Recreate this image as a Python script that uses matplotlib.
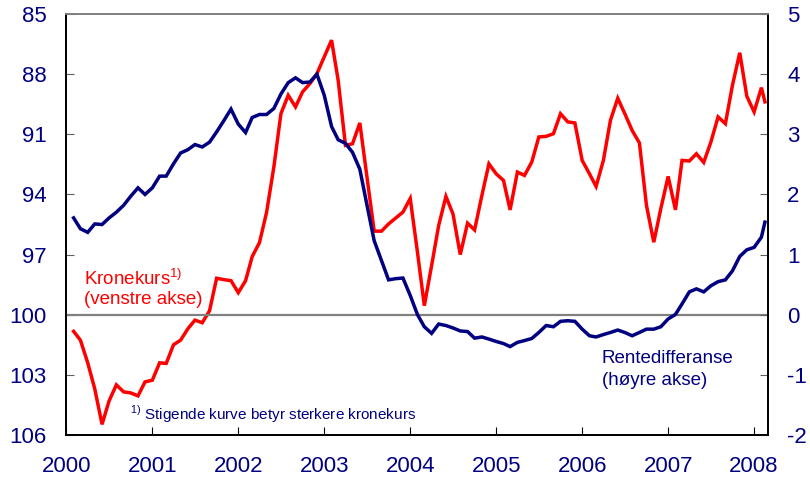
import numpy as np
import pandas as pd
import matplotlib
matplotlib.use("Agg")
import matplotlib.pyplot as plt

plt.rcParams['font.family'] = ['Liberation Sans', 'DejaVu Sans']
plt.rcParams['mathtext.fontset'] = 'custom'
plt.rcParams['mathtext.rm'] = 'Liberation Sans'
plt.rcParams['axes.unicode_minus'] = False

# Månedsdata jan 2000 - jan 2008, pluss siste observasjon midt i feb 2008
datoer = list(pd.date_range('2000-01-31', periods=97, freq='ME')) + [pd.Timestamp('2008-02-15')]

# Kronekurs (venstre akse, invertert)
kronekurs = [
    100.83, 101.27, 102.4, 103.7, 105.47, 104.3, 103.5, 103.85, 103.9, 104.05,
    103.35, 103.27, 102.4, 102.43, 101.5, 101.27, 100.7, 100.27, 100.4, 99.8,
    98.18, 98.25, 98.3, 98.9, 98.3, 97.1, 96.4, 94.9, 92.63, 89.97,
    89.05, 89.63, 88.88, 88.47, 87.97, 87.13, 86.3, 88.3, 91.55, 91.47,
    90.43, 93.1, 95.83, 95.83, 95.47, 95.17, 94.88, 94.2, 96.9, 99.55,
    97.55, 95.55, 94.1, 94.97, 97.0, 95.43, 95.77, 94.05, 92.47, 92.97,
    93.3, 94.77, 92.88, 93.05, 92.38, 91.13, 91.1, 90.97, 89.97, 90.38,
    90.43, 92.3, 92.97, 93.6, 92.3, 90.3, 89.2, 89.97, 90.8, 91.43,
    94.55, 96.38, 94.7, 93.1, 94.77, 92.3, 92.33, 91.97, 92.4, 91.4,
    90.13, 90.47, 88.55, 86.93, 89.1, 89.88, 88.67, 89.38,
]

# Rentedifferanse (høyre akse)
rentediff = [
    1.61, 1.43, 1.37, 1.51, 1.50, 1.61, 1.705, 1.82, 1.97, 2.11,
    2.0, 2.11, 2.305, 2.305, 2.51, 2.69, 2.745, 2.83, 2.79, 2.87,
    3.04, 3.23, 3.42, 3.17, 3.03, 3.28, 3.33, 3.33, 3.43, 3.67,
    3.86, 3.94, 3.86, 3.87, 4.0, 3.65, 3.13, 2.91, 2.85, 2.70,
    2.42, 1.83, 1.23, 0.9, 0.58, 0.60, 0.61, 0.32, 0.0, -0.2,
    -0.31, -0.155, -0.18, -0.22, -0.27, -0.28, -0.39, -0.37, -0.405, -0.445,
    -0.48, -0.53, -0.46, -0.43, -0.395, -0.295, -0.18, -0.2, -0.11, -0.10,
    -0.11, -0.24, -0.35, -0.37, -0.33, -0.295, -0.255, -0.295, -0.35, -0.295,
    -0.24, -0.24, -0.2, -0.07, 0.005, 0.18, 0.38, 0.43, 0.38, 0.48,
    0.55, 0.58, 0.73, 0.97, 1.08, 1.12, 1.29, 1.54,
]

aar = list(range(2000, 2009))
venstre_ticks = [85, 88, 91, 94, 97, 100, 103, 106]
hoyre_ticks = [5, 4, 3, 2, 1, 0, -1, -2]

navy = '#000080'
rod = '#FF0000'

# desimalår fra datoene
d = pd.DatetimeIndex(datoer)
x = d.year + d.dayofyear / np.where(d.is_leap_year, 366.0, 365.0)

fig = plt.figure(figsize=(8.1, 4.86), dpi=100)
ax = fig.add_axes([0.0819, 0.105, 0.8661, 0.866])
ax2 = ax.twinx()

ax.set_xlim(2000, 2008.16)
ax.set_ylim(106, 85)
ax2.set_ylim(-2, 5)

# nullinje
ax2.axhline(0, color='#808080', lw=1.6, zorder=1)

ax.plot(x, kronekurs, color=rod, lw=2.5, solid_joinstyle='miter', zorder=3)
ax2.plot(x, rentediff, color=navy, lw=2.5, solid_joinstyle='miter', zorder=3)

ax.set_xticks(aar)
ax.set_xticklabels([str(a) for a in aar])
ax.set_yticks(venstre_ticks)
ax2.set_yticks(hoyre_ticks)

fs = 16
ax.tick_params(axis='x', direction='in', length=6, color='black', labelcolor=navy,
               labelsize=fs, pad=15)
ax.tick_params(axis='y', direction='in', length=6, color='#606060', labelcolor=navy,
               labelsize=fs, pad=14)
ax2.tick_params(axis='y', direction='in', length=6, color='#606060', labelcolor=navy,
                labelsize=fs, pad=14)

for a in (ax, ax2):
    a.spines['top'].set_color('#808080')
    a.spines['top'].set_linewidth(1.3)
    for s in ('left', 'right', 'bottom'):
        a.spines[s].set_color('black')
        a.spines[s].set_linewidth(1.3)

ax2.set_zorder(ax.get_zorder() + 1)
ax2.patch.set_visible(False)

# tekster
ax.text(2000.21, 98.2, 'Kronekurs$^{\\mathrm{1)}}$', color=rod, fontsize=13.5,
        va='center', ha='left')
ax.text(2000.21, 99.25, '(venstre akse)', color=rod, fontsize=13.5,
        va='center', ha='left')
ax.text(2006.23, 102.2, 'Rentedifferanse', color=navy, fontsize=13.5,
        va='center', ha='left')
ax.text(2006.23, 103.3, '(høyre akse)', color=navy, fontsize=13.5,
        va='center', ha='left')
ax.text(2000.74, 104.95, '$^{\\mathrm{1)}}$ Stigende kurve betyr sterkere kronekurs',
        color=navy, fontsize=11, va='center', ha='left')

fig.savefig('out.png', dpi=100)
